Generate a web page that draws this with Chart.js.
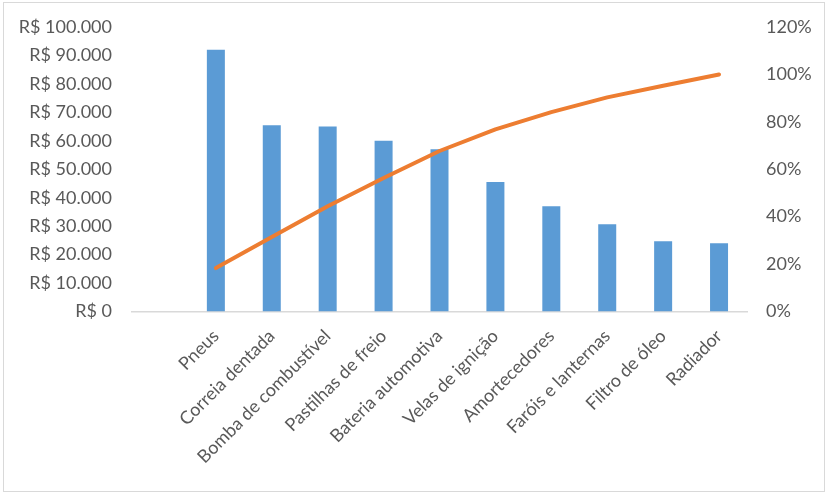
<!DOCTYPE html>
<html>
<head>
<meta charset="utf-8">
<script src="https://cdn.jsdelivr.net/npm/chart.js@4/dist/chart.umd.min.js"></script>
<style>
html,body{margin:0;padding:0;background:#fff;}
#wrap{position:absolute;left:0;top:0;width:831px;height:496px;}
#frame{position:absolute;left:3px;top:2px;width:822px;height:490px;border:1px solid #D9D9D9;box-sizing:border-box;pointer-events:none;}
</style>
</head>
<body>
<div id="wrap"><canvas id="c" width="831" height="496"></canvas></div>
<div id="frame"></div>
<script>
const categories = ['', 'Pneus', 'Correia dentada', 'Bomba de combustível', 'Pastilhas de freio', 'Bateria automotiva', 'Velas de ignição', 'Amortecedores', 'Faróis e lanternas', 'Filtro de óleo', 'Radiador'];
const costValues = [null, 92000, 65500, 65000, 60000, 57000, 45500, 37000, 30700, 24700, 24000];
const cumulativePercent = [null, 18.3, 31.4, 44.4, 56.3, 67.7, 76.8, 84.1, 90.3, 95.2, 100];
const leftTicks = { min: 0, max: 100000, step: 10000 };
const rightTicks = { min: 0, max: 120, step: 20 };

const FONT = 'Lato';
const GRAY = '#595959';

function brl(v){
  return 'R$ ' + String(Math.round(v)).replace(/\B(?=(\d{3})+(?!\d))/g, '.');
}

new Chart(document.getElementById('c'), {
  data: {
    labels: categories,
    datasets: [
      {
        type: 'line',
        data: cumulativePercent,
        yAxisID: 'y1',
        borderColor: '#ED7D31',
        borderWidth: 4,
        borderCapStyle: 'round',
        borderJoinStyle: 'round',
        pointRadius: 0,
        tension: 0,
        fill: false,
        order: 1
      },
      {
        type: 'bar',
        data: costValues,
        yAxisID: 'y',
        backgroundColor: '#5B9BD5',
        barPercentage: 0.322,
        categoryPercentage: 1,
        order: 2
      }
    ]
  },
  options: {
    responsive: false,
    animation: false,
    devicePixelRatio: 1,
    layout: { padding: { top: 27, left: 0, right: 0, bottom: 0 } },
    plugins: { legend: { display: false }, tooltip: { enabled: false } },
    scales: {
      x: {
        grid: { display: false, drawTicks: false },
        border: { display: true, color: '#D9D9D9', width: 1.5 },
        ticks: {
          color: GRAY,
          font: { family: FONT, size: 18 },
          maxRotation: 45,
          minRotation: 45,
          autoSkip: false,
          padding: 14
        },
        afterFit(s){ s.height = 184.5; s.paddingLeft = 0; s.paddingRight = 0; }
      },
      y: {
        position: 'left',
        min: leftTicks.min,
        max: leftTicks.max,
        grid: { display: false, drawTicks: false },
        border: { display: false },
        ticks: {
          stepSize: leftTicks.step,
          color: GRAY,
          font: { family: FONT, size: 18 },
          padding: 20,
          callback: v => brl(v)
        },
        afterFit(s){ s.width = 132; s.paddingTop = 0; s.paddingBottom = 0; }
      },
      y1: {
        position: 'right',
        min: rightTicks.min,
        max: rightTicks.max,
        grid: { display: false, drawTicks: false },
        border: { display: false },
        ticks: {
          stepSize: rightTicks.step,
          color: GRAY,
          font: { family: FONT, size: 18 },
          padding: 19,
          callback: v => v + '%'
        },
        afterFit(s){ s.width = 84; s.paddingTop = 0; s.paddingBottom = 0; }
      }
    }
  }
});
</script>
</body>
</html>
